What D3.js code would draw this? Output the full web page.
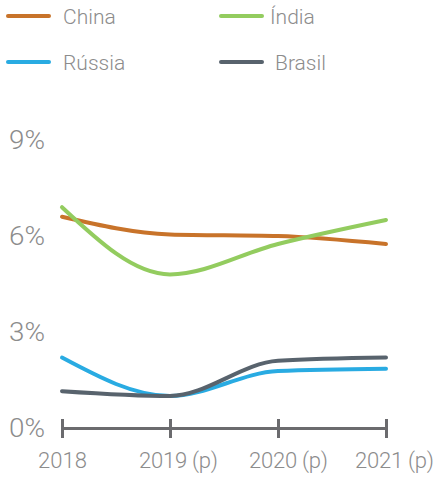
<!DOCTYPE html>
<html>
<head>
<meta charset="utf-8">
<script src="https://cdn.jsdelivr.net/npm/d3@7"></script>
<style>
  html, body { margin: 0; padding: 0; background: #fff; }
  svg text { font-family: Roboto, "Noto Sans", sans-serif; font-weight: 300; fill: #8c8c8c; }
</style>
</head>
<body>
<svg id="chart" width="441" height="477"></svg>
<script>
// Growth projections (% per year)
const years = ["2018", "2019 (p)", "2020 (p)", "2021 (p)"];
const china  = [6.6, 6.05, 6.0, 5.75];
const india  = [6.9, 4.8, 5.75, 6.5];
const russia = [2.2, 1.0, 1.78, 1.85];
const brasil = [1.15, 1.0, 2.1, 2.2];
const yTicks = [0, 3, 6, 9];

const seriesNames  = ["China", "Índia", "Rússia", "Brasil"];
const seriesValues = [china, india, russia, brasil];
const seriesColors = ["#c8732a", "#93cc5f", "#29abe2", "#58636d"];

const svg = d3.select("#chart");

const x = d3.scalePoint().domain(years).range([62, 386]);
const y = d3.scaleLinear().domain([0, 9]).range([428, 140]);

// y labels (no axis line)
svg.append("g").selectAll("text")
  .data(yTicks)
  .join("text")
  .attr("x", 9)
  .attr("y", d => y(d))
  .attr("dy", "0.36em")
  .attr("font-size", 25)
  .attr("textLength", 36)
  .attr("lengthAdjust", "spacingAndGlyphs")
  .text(d => d + "%");

// x axis with ticks both above and below the baseline
const xAxis = svg.append("g")
  .attr("transform", "translate(0,428)")
  .call(d3.axisBottom(x).tickSizeInner(10).tickSizeOuter(0).tickPadding(14));
xAxis.select(".domain").attr("stroke", "#6b6b6e").attr("stroke-width", 3);
xAxis.selectAll(".tick line")
  .attr("stroke", "#6b6b6e").attr("stroke-width", 3)
  .attr("y1", -9).attr("y2", 10);
xAxis.selectAll(".tick text")
  .attr("font-size", 22)
  .attr("fill", "#8c8c8c")
  .style("font-family", "Roboto, 'Noto Sans', sans-serif")
  .style("font-weight", 300)
  .attr("dx", d => d === "2018" ? 0 : (d === "2020 (p)" ? 10 : 8))
  .each(function (d) {
    if (d !== "2018") d3.select(this).attr("textLength", 79).attr("lengthAdjust", "spacing");
  });

// series lines
const line = d3.line()
  .x((d, i) => x(years[i]))
  .y(d => y(d))
  .curve(d3.curveMonotoneX);

svg.append("g").selectAll("path")
  .data(seriesValues)
  .join("path")
  .attr("fill", "none")
  .attr("stroke", (d, i) => seriesColors[i])
  .attr("stroke-width", 4)
  .attr("stroke-linecap", "round")
  .attr("d", d => line(d));

// legend, two columns
const legend = svg.append("g");
const legPos = [[8, 16], [221, 16], [8, 62], [221, 62]];
const legTextX = [63, 270, 63, 275];
seriesNames.forEach((name, i) => {
  const [lx, ly] = legPos[i];
  legend.append("line")
    .attr("x1", lx).attr("x2", lx + 41)
    .attr("y1", ly).attr("y2", ly)
    .attr("stroke", seriesColors[i])
    .attr("stroke-width", 4)
    .attr("stroke-linecap", "round");
  legend.append("text")
    .attr("x", legTextX[i])
    .attr("y", ly)
    .attr("dy", "0.36em")
    .attr("font-size", 21)
    .text(name);
});
</script>
</body>
</html>
